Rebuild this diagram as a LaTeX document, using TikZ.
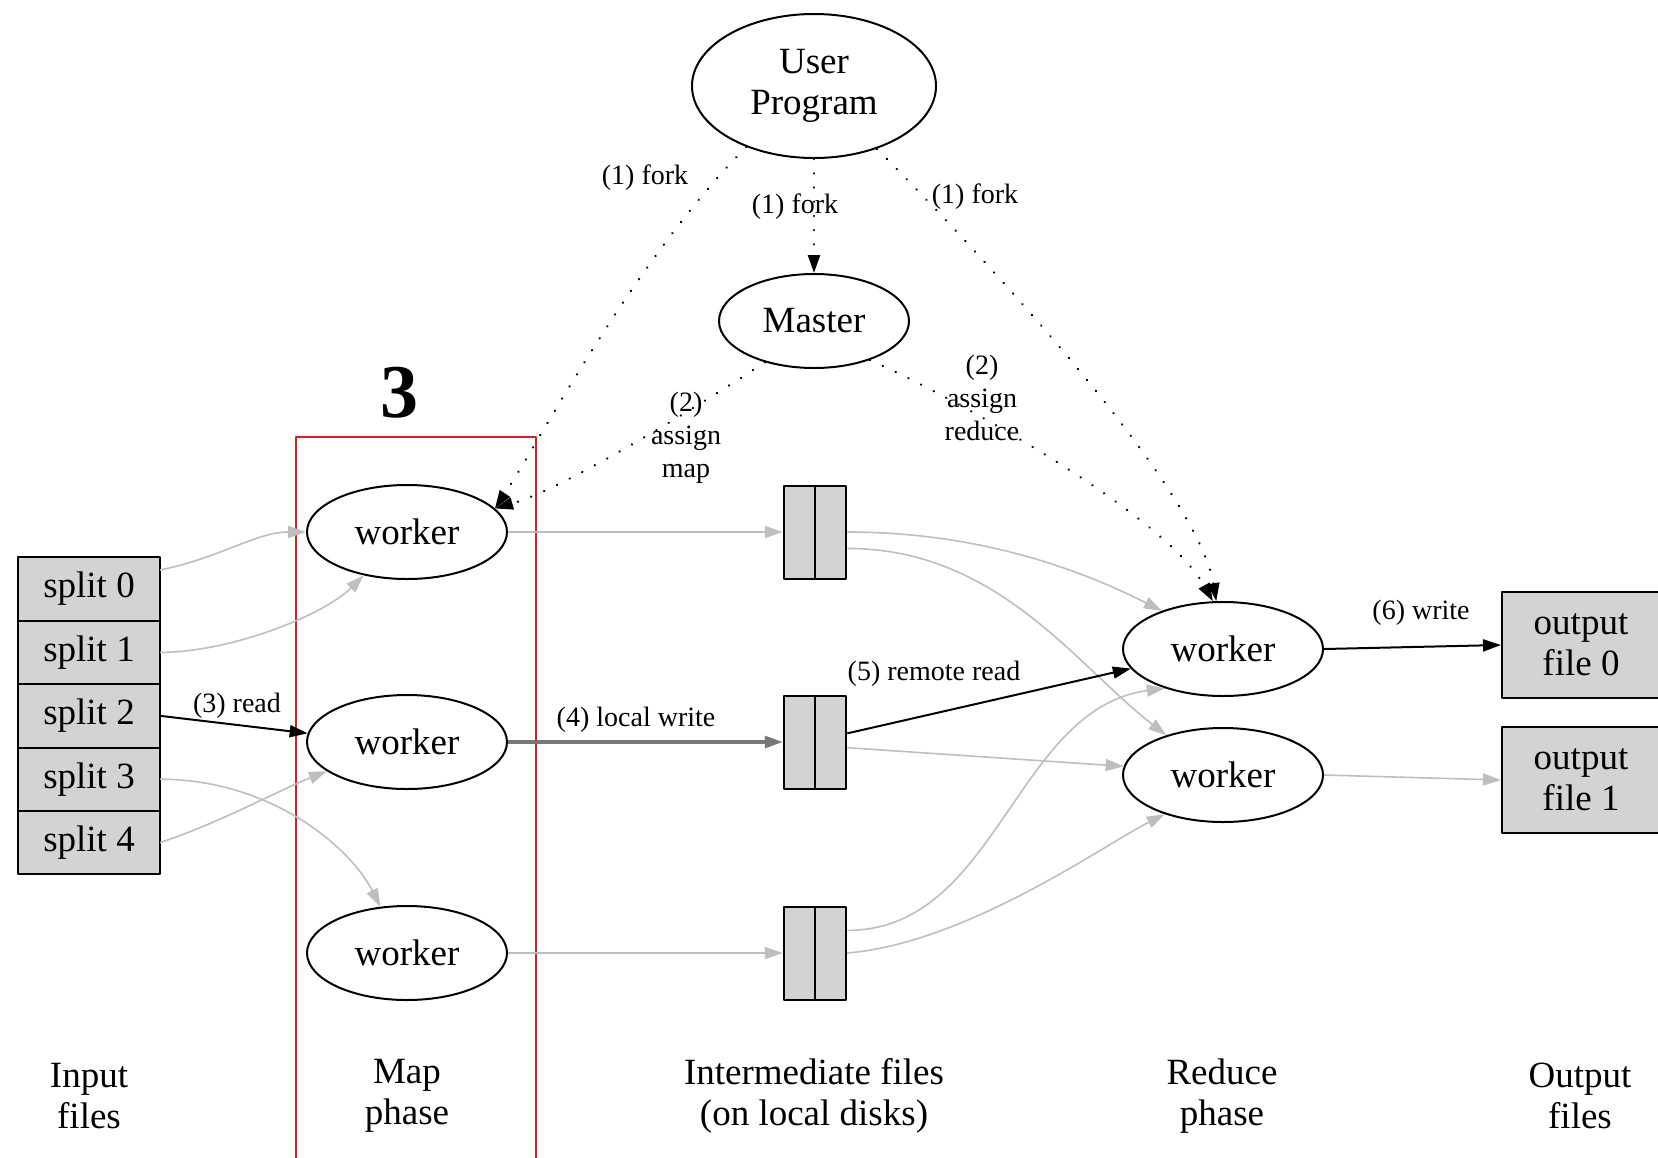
\documentclass[tikz,border=0pt]{standalone}
\usepackage{fontspec}
\setmainfont{Liberation Serif}
\usetikzlibrary{arrows.meta,positioning,shapes.geometric}
\definecolor{boxgray}{RGB}{211,211,211}
\definecolor{edgegray}{RGB}{190,190,190}
\definecolor{writegray}{RGB}{120,120,120}
\definecolor{mapred}{RGB}{206,32,41}
\tikzset{
  every picture/.style={line join=round},
}

\begin{document}
\begin{tikzpicture}[x=0.5pt, y=-0.5pt,
  >={Triangle[length=9pt,width=6pt]},
  every node/.style={font=\fontsize{18.5}{20.5}\selectfont, align=center},
  worker/.style={ellipse, draw, line width=1pt, inner sep=0pt,
    minimum width=100pt, minimum height=47pt},
  splitbox/.style={rectangle, draw, line width=1pt, fill=boxgray, outer sep=0pt,
    inner sep=0pt, minimum width=71pt, minimum height=31.7pt},
  filebox/.style={rectangle, draw, line width=1pt, fill=boxgray, inner sep=0pt,
    minimum width=31.25pt, minimum height=46.5pt},
  outbox/.style={rectangle, draw, line width=1pt, fill=boxgray, inner sep=0pt,
    minimum width=79pt, minimum height=53pt},
  lbl/.style={font=\fontsize{14}{16.5}\selectfont, inner sep=1pt},
  graylink/.style={->, color=edgegray, line width=0.8pt},
  blacklink/.style={->, line width=1pt},
  forklink/.style={->, line width=1.2pt, dash pattern=on 0.1pt off 7pt, line cap=round}]

\fill[white] (0,0) rectangle (1658,1157);
\useasboundingbox (0,0) rectangle (1658,1157);

%% User program and master
\node[ellipse, draw, line width=1pt, inner sep=0pt, minimum width=122pt, minimum height=72pt]
  (user) at (814,86) {User\\Program};
\node[ellipse, draw, line width=1pt, inner sep=0pt, minimum width=95pt, minimum height=47pt]
  (master) at (814,321) {Master};

%% Input files
\node[splitbox] (s0) at (89,589) {split 0};
\node[splitbox, below=0pt of s0] (s1) {split 1};
\node[splitbox, below=0pt of s1] (s2) {split 2};
\node[splitbox, below=0pt of s2] (s3) {split 3};
\node[splitbox, below=0pt of s3] (s4) {split 4};

%% Map phase (red frame)
\draw[mapred, line width=1pt] (296,437) rectangle (536,1170);
\node[font=\fontsize{38}{38}\selectfont\bfseries] (three) at (399,393) {3};
\node[worker] (mw1) at (407,532) {worker};
\node[worker] (mw2) at (407,742) {worker};
\node[worker] (mw3) at (407,953) {worker};

%% Intermediate files
\node[filebox] (f1) at (815,532) {};
\node[filebox] (f2) at (815,742) {};
\node[filebox] (f3) at (815,953) {};
\draw[line width=1pt] (f1.north) -- (f1.south);
\draw[line width=1pt] (f2.north) -- (f2.south);
\draw[line width=1pt] (f3.north) -- (f3.south);

%% Reduce phase and output files
\node[worker] (rw0) at (1223,649) {worker};
\node[worker] (rw1) at (1223,775) {worker};
\node[outbox] (o0) at (1581,645) {output\\file 0};
\node[outbox] (o1) at (1581,780) {output\\file 1};

%% Column captions
\node (capin) at (89,1096) {Input\\files};
\node (capmap) at (407,1096) {Map\\phase};
\node (capmid) at (814,1096) {Intermediate files\\(on local disks)};
\node (capred) at (1222,1096) {Reduce\\phase};
\node (capout) at (1580,1096) {Output\\files};

%% Fork and assign (dotted)
\draw[forklink] (user.south) -- (master.north);
\draw[forklink] (user.222) .. controls +(-110,110) and +(40,-60) .. (mw1.15);
\draw[forklink] (user.315) .. controls +(80,80) and +(-20,-120) .. (rw0.98);
\draw[forklink] (master.220) .. controls +(-60,40) and +(70,-20) .. (mw1.15);
\draw[forklink] (master.325) .. controls +(70,30) and +(-50,-90) .. (rw0.102);
\node[lbl] (lfork1) at (645,178) {(1) fork};
\node[lbl] (lfork2) at (795,207) {(1) fork};
\node[lbl] (lfork3) at (975,197) {(1) fork};
\node[lbl] (lamap) at (686,438) {(2)\\assign\\map};
\node[lbl] (lared) at (982,398) {(2)\\assign\\reduce};

%% Read into map workers
\draw[graylink] (s0.15) .. controls +(60,-12) and +(-50,0) .. (mw1.west);
\draw[graylink] (s1.east) .. controls +(70,0) and +(-40,40) .. (mw1.225);
\draw[blacklink] (s2.east) -- (mw2.175);
\draw[graylink] (s3.east) .. controls +(110,0) and +(-30,-60) .. (mw3.120);
\draw[graylink] (s4.east) .. controls +(60,-20) and +(-50,20) .. (mw2.200);
\node[lbl] (lread) at (237,706) {(3) read};

%% Local write
\draw[graylink] (mw1.east) -- (f1.west);
\draw[->, color=writegray, line width=1.6pt] (mw2.east) -- (f2.west);
\draw[graylink] (mw3.east) -- (f3.west);
\node[lbl] (lwrite) at (636,720) {(4) local write};

%% Remote read
\draw[graylink] (f1.east) .. controls +(150,0) and +(-60,-30) .. (rw0.148);
\draw[graylink] (f1.-27) .. controls +(150,0) and +(-90,-70) .. (rw1.145);
\draw[blacklink] (f2.15) -- (rw0.192);
\draw[graylink] (f2.-10) -- (rw1.175);
\draw[graylink] (f3.35) .. controls +(150,0) and +(-150,20) .. (rw0.214);
\draw[graylink] (f3.east) .. controls +(120,-10) and +(-60,30) .. (rw1.214);
\node[lbl] (lremote) at (934,674) {(5) remote read};

%% Output write
\draw[blacklink] (rw0.east) -- (o0.west);
\draw[graylink] (rw1.east) -- (o1.west);
\node[lbl] (lout) at (1421,613) {(6) write};

\end{tikzpicture}
\end{document}
